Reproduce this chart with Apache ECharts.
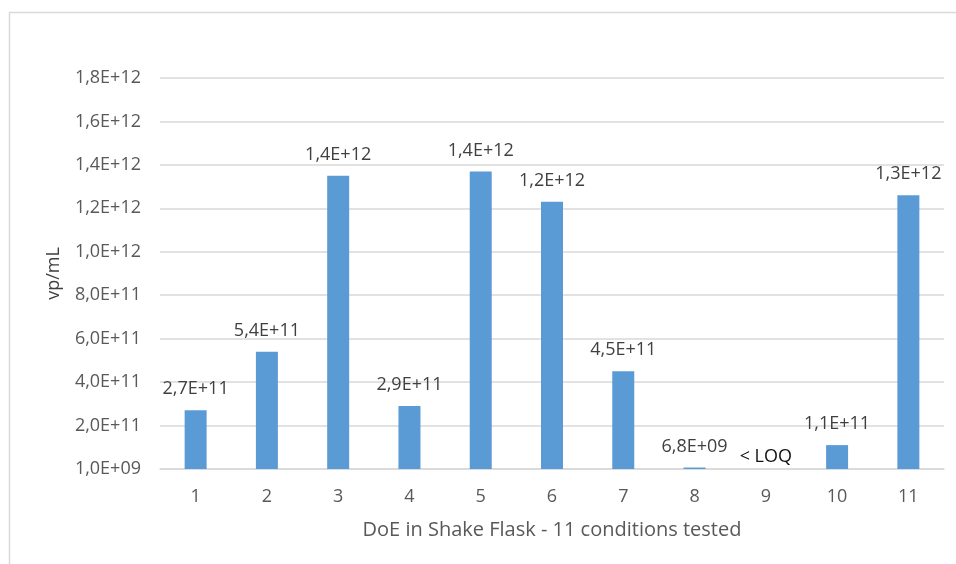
<!DOCTYPE html>
<html><head><meta charset="utf-8">
<script src="https://cdn.jsdelivr.net/npm/echarts@6/dist/echarts.min.js"></script>
<style>html,body{margin:0;padding:0;background:#fff}#c{width:956px;height:564px}</style>
</head><body><div id="c"></div>
<script>
const categories = ['1','2','3','4','5','6','7','8','9','10','11'];
const values = [2.7e11, 5.4e11, 1.35e12, 2.9e11, 1.37e12, 1.23e12, 4.5e11, 6.8e9, null, 1.1e11, 1.26e12];
const valueLabels = ['2,7E+11','5,4E+11','1,4E+12','2,9E+11','1,4E+12','1,2E+12','4,5E+11','6,8E+09','< LOQ','1,1E+11','1,3E+12'];
const yTickLabels = ['1,0E+09','2,0E+11','4,0E+11','6,0E+11','8,0E+11','1,0E+12','1,2E+12','1,4E+12','1,6E+12','1,8E+12'];
const yName = 'vp/mL';
const xName = 'DoE in Shake Flask - 11 conditions tested';

const FONT = '"Open Sans", sans-serif';
const chart = echarts.init(document.getElementById('c'), null, {renderer:'canvas'});
const data = values.map((v, i) => {
  if (v === null) {
    return { value: 0, label: { color: '#111', distance: 3 } };
  }
  return v;
});
chart.setOption({
  animation: false,
  backgroundColor: '#fff',
  graphic: [{
    type: 'rect', left: 7, top: 10, shape: { width: 960, height: 570 },
    style: { fill: 'none', stroke: '#d9d9d9', lineWidth: 1.5 }, silent: true, z: -1
  }],
  grid: { left: 160, right: 12, top: 78, bottom: 95, containLabel: false },
  xAxis: {
    type: 'category', data: categories,
    name: xName, nameLocation: 'middle', nameGap: 51,
    nameTextStyle: { fontFamily: FONT, fontSize: 20, color: '#595959' },
    axisLine: { show: true, lineStyle: { color: '#d9d9d9', width: 1.5 } },
    axisTick: { show: false },
    axisLabel: { fontFamily: FONT, fontSize: 18, color: '#595959', margin: 19 }
  },
  yAxis: {
    type: 'value', min: 0, max: 1.8e12, interval: 2e11,
    name: yName, nameLocation: 'middle', nameGap: 97, nameRotate: 90,
    nameTextStyle: { fontFamily: FONT, fontSize: 18, color: '#404040' },
    axisLine: { show: false }, axisTick: { show: false },
    splitLine: { lineStyle: { color: '#d9d9d9', width: 1.5 } },
    axisLabel: {
      fontFamily: FONT, fontSize: 18, color: '#595959', margin: 19,
      formatter: v => yTickLabels[Math.round(v / 2e11)]
    }
  },
  series: [{
    type: 'bar', data: data, barWidth: 22,
    itemStyle: { color: '#5b9bd5' },
    label: {
      show: true, position: 'top', distance: 12,
      fontFamily: FONT, fontSize: 18, color: '#404040',
      formatter: p => valueLabels[p.dataIndex]
    }
  }]
});
</script></body></html>
